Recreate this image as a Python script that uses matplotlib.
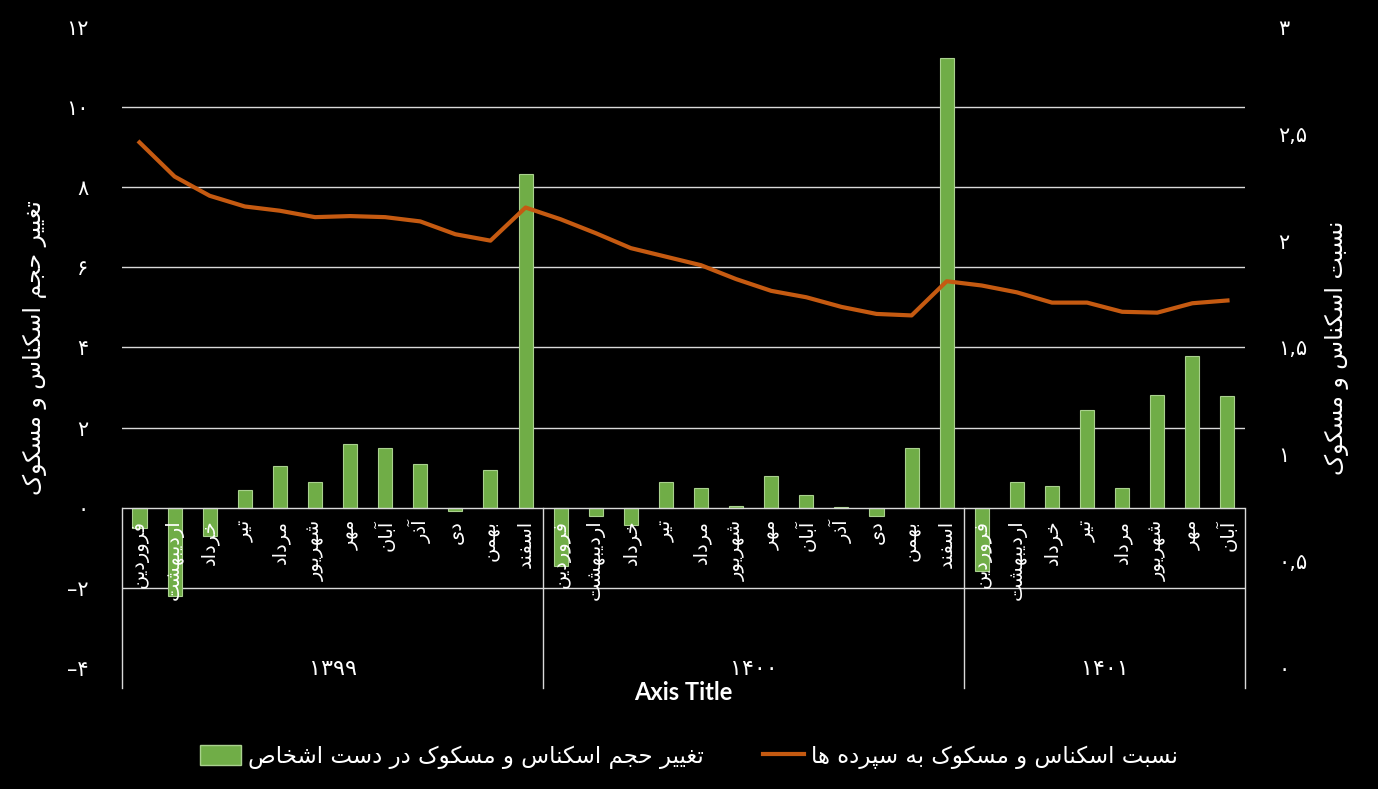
import numpy as np
import matplotlib
matplotlib.use("Agg")
import matplotlib.pyplot as plt
import matplotlib.transforms as mtransforms
from matplotlib.patches import Patch
from matplotlib.lines import Line2D

# ---- data ----
months = ["فروردین", "اردیبهشت", "خرداد", "تیر", "مرداد", "شهریور",
          "مهر", "آبان", "آذر", "دی", "بهمن", "اسفند"]
years = ["۱۳۹۹", "۱۴۰۰", "۱۴۰۱"]
months_per_year = [12, 12, 8]

volume_change = [-0.5, -2.2, -0.7, 0.43, 1.03, 0.63, 1.58, 1.5, 1.1, -0.07, 0.95, 8.34,
                 -1.45, -0.2, -0.43, 0.65, 0.48, 0.05, 0.78, 0.33, 0.02, -0.2, 1.48, 11.23,
                 -1.58, 0.63, 0.53, 2.44, 0.48, 2.81, 3.79, 2.79]
cash_ratio = [2.46, 2.30, 2.21, 2.16, 2.14, 2.11, 2.115, 2.11, 2.09, 2.03, 2.00, 2.155,
              2.10, 2.035, 1.965, 1.925, 1.885, 1.82, 1.765, 1.735, 1.69, 1.657, 1.65, 1.81,
              1.79, 1.758, 1.71, 1.71, 1.667, 1.663, 1.707, 1.72]

left_ticks = [-4, -2, 0, 2, 4, 6, 8, 10, 12]
left_ticklabels = ["–۴", "–۲", "۰", "۲", "۴", "۶", "۸", "۱۰", "۱۲"]
right_ticks = [0, 0.5, 1, 1.5, 2, 2.5, 3]
right_ticklabels = ["۰", "۰,۵", "۱", "۱,۵", "۲", "۲,۵", "۳"]

bar_label = "تغییر حجم اسکناس و مسکوک در دست اشخاص"
line_label = "نسبت اسکناس و مسکوک به سپرده ها"
left_title = "تغییر حجم اسکناس و مسکوک"
right_title = "نسبت اسکناس و مسکوک"

# ---- minimal Persian shaping (presentation forms + visual order) ----
FORMS = {
    'ا': ('\uFE8D', '\uFE8E', None, None),
    'آ': ('\uFE81', '\uFE82', None, None),
    'ب': ('\uFE8F', '\uFE90', '\uFE91', '\uFE92'),
    'پ': ('\uFB56', '\uFB57', '\uFB58', '\uFB59'),
    'ت': ('\uFE95', '\uFE96', '\uFE97', '\uFE98'),
    'ج': ('\uFE9D', '\uFE9E', '\uFE9F', '\uFEA0'),
    'ح': ('\uFEA1', '\uFEA2', '\uFEA3', '\uFEA4'),
    'خ': ('\uFEA5', '\uFEA6', '\uFEA7', '\uFEA8'),
    'د': ('\uFEA9', '\uFEAA', None, None),
    'ذ': ('\uFEAB', '\uFEAC', None, None),
    'ر': ('\uFEAD', '\uFEAE', None, None),
    'ز': ('\uFEAF', '\uFEB0', None, None),
    'س': ('\uFEB1', '\uFEB2', '\uFEB3', '\uFEB4'),
    'ش': ('\uFEB5', '\uFEB6', '\uFEB7', '\uFEB8'),
    'ص': ('\uFEB9', '\uFEBA', '\uFEBB', '\uFEBC'),
    'غ': ('\uFECD', '\uFECE', '\uFECF', '\uFED0'),
    'ف': ('\uFED1', '\uFED2', '\uFED3', '\uFED4'),
    'ک': ('\uFB8E', '\uFB8F', '\uFB90', '\uFB91'),
    'م': ('\uFEE1', '\uFEE2', '\uFEE3', '\uFEE4'),
    'ن': ('\uFEE5', '\uFEE6', '\uFEE7', '\uFEE8'),
    'و': ('\uFEED', '\uFEEE', None, None),
    'ه': ('\uFEE9', '\uFEEA', '\uFEEB', '\uFEEC'),
    'ی': ('\uFBFC', '\uFBFD', '\uFBFE', '\uFBFF'),
}


def fa(s):
    out = []
    for i, c in enumerate(s):
        if c not in FORMS:
            out.append(c)
            continue
        iso, fin, ini, med = FORMS[c]
        prev = s[i - 1] if i > 0 else ''
        nxt = s[i + 1] if i + 1 < len(s) else ''
        jp = prev in FORMS and FORMS[prev][2] is not None
        jn = ini is not None and nxt in FORMS
        if jp and jn:
            out.append(med)
        elif jp:
            out.append(fin)
        elif jn:
            out.append(ini)
        else:
            out.append(iso)
    return ''.join(reversed(out))


plt.rcParams['font.family'] = ['DejaVu Sans']
GREEN = '#70ad47'
ORANGE = '#c55a11'
GRID = '#d9d9d9'

fig = plt.figure(figsize=(13.78, 7.89), dpi=100, facecolor='black')
ax = fig.add_axes([0.0885, 0.1534, 0.815, 0.8124])
ax.set_facecolor('black')
ax2 = ax.twinx()

n = len(volume_change)
x = np.arange(n)

for g in [-2, 2, 4, 6, 8, 10]:
    ax.axhline(g, color=GRID, lw=1, zorder=0)
ax.axhline(0, color=GRID, lw=1, zorder=3)

ax.bar(x, volume_change, width=0.4, color=GREEN, edgecolor='#a9d18e', linewidth=0.8, zorder=2)
ax2.plot(x, cash_ratio, color=ORANGE, lw=3, solid_joinstyle='round', zorder=4)

ax.set_xlim(-0.5, n - 0.5)
ax.set_ylim(-4, 12)
ax2.set_ylim(0, 3)

for a in (ax, ax2):
    for sp in a.spines.values():
        sp.set_visible(False)
ax.set_xticks([])
ax.set_yticks(left_ticks)
ax.set_yticklabels(left_ticklabels, fontsize=15, color='white')
ax.tick_params(axis='y', length=0, pad=24)
ax2.set_yticks(right_ticks)
ax2.set_yticklabels(right_ticklabels, fontsize=15, color='white')
ax2.tick_params(axis='y', length=0, pad=24)

ax.set_ylabel(fa(left_title), fontsize=17, color='white', labelpad=14)
ax2.set_ylabel(fa(right_title), fontsize=17, color='white', labelpad=12, rotation=90)

# multi-level category axis
trans = mtransforms.blended_transform_factory(ax.transData, ax.transAxes)
bounds = np.concatenate([[0], np.cumsum(months_per_year)]) - 0.5
for b in bounds:
    ax.plot([b, b], [0.25, -0.031], transform=trans, color=GRID, lw=1, clip_on=False)

idx = 0
for yr, cnt in zip(years, months_per_year):
    for m in months[:cnt]:
        ax.text(idx, -0.3, fa(m), rotation=90, ha='center', va='top',
                fontsize=14, color='white', zorder=5)
        idx += 1
for yr, lo, hi in zip(years, bounds[:-1], bounds[1:]):
    ax.text((lo + hi) / 2, -0.002, yr, transform=trans, ha='center', va='center',
            fontsize=16, color='white')

fig.text(0.496, 1 - 693 / 789, "Axis Title", ha='center', va='center',
         fontsize=17, fontweight='bold', color='white', family='Lato')

handles = [Patch(facecolor=GREEN, edgecolor='#a9d18e'),
           Line2D([0], [0], color=ORANGE, lw=3)]
fig.legend(handles, [fa(bar_label), fa(line_label)], ncol=2, loc='center',
           bbox_to_anchor=(0.5, 1 - 757 / 789), frameon=False, fontsize=16.5,
           labelcolor='white', columnspacing=2.6, handlelength=1.8, handleheight=1.0,
           handletextpad=0.3)

fig.savefig('out.png', dpi=100, facecolor='black')
